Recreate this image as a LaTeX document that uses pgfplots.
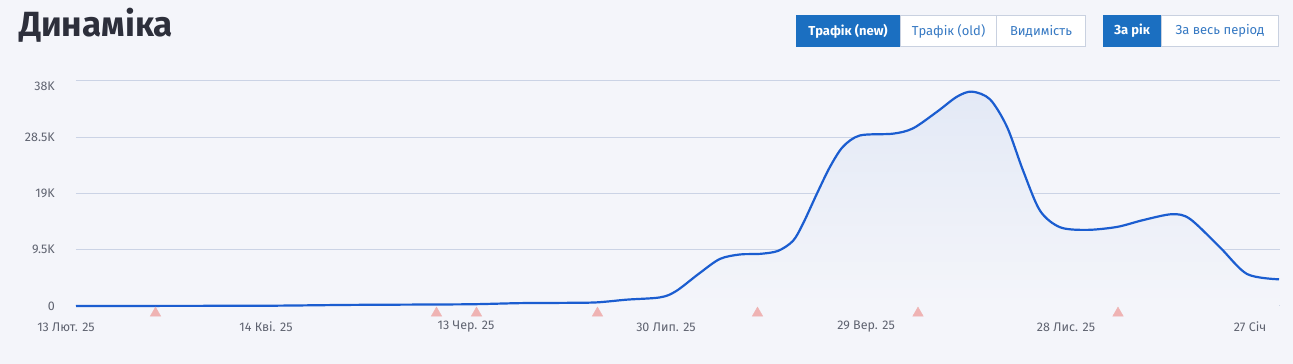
\documentclass[border=0pt]{standalone}
\usepackage{pgfplots}
\pgfplotsset{compat=1.18}
\usepackage{fontspec}
\setmainfont{Fira Sans}
\definecolor{bgc}{HTML}{F4F5FA}
\definecolor{titlec}{HTML}{2D2F3B}
\definecolor{linec}{HTML}{1B5DD0}
\definecolor{gridc}{HTML}{CBD3E5}
\definecolor{tickc}{HTML}{5F6370}
\definecolor{actc}{HTML}{1B6FC1}
\definecolor{btntext}{HTML}{3679C3}
\definecolor{btnborder}{HTML}{C9D1E0}
\definecolor{pinkc}{HTML}{EFB3B3}
\definecolor{fillc}{HTML}{E3E9F6}
\pgfplotstableread{
x y
76 0
200 20
274 50
350 180
435 250
475 300
520 480
560 520
596 600
627 1070
660 1450
676 2500
700 5600
720 7950
740 8700
760 8800
778 9300
793 11000
803 13900
817 19000
830 23500
843 26900
860 28800
893 29100
913 30000
937 32800
957 35350
972 36200
990 34900
1007 30250
1023 22900
1040 16100
1060 13300
1087 12850
1117 13350
1143 14500
1172 15500
1190 14700
1220 9900
1247 5400
1279 4500
}\traffic
\begin{document}
\begin{tikzpicture}[x=1pt,y=1pt]
\fill[bgc] (0,0) rectangle (1293,364);
\node[anchor=base west, inner sep=0, text=titlec, font=\fontsize{35}{35}\selectfont\bfseries] at (19,327) {Динаміка};
% buttons
\fill[actc] (796,349) rectangle (900,317);
\node[text=white, font=\fontsize{13}{13}\selectfont\bfseries] at (848,333) {Трафік (new)};
\draw[btnborder, fill=white] (900.5,348.5) rectangle (996.5,317.5);
\node[text=btntext, font=\fontsize{13}{13}\selectfont] at (948.5,333) {Трафік (old)};
\draw[btnborder, fill=white] (996.5,348.5) rectangle (1085.5,317.5);
\node[text=btntext, font=\fontsize{13}{13}\selectfont] at (1041,333) {Видимість};
\fill[actc] (1103,349) rectangle (1161,317);
\node[text=white, font=\fontsize{13}{13}\selectfont\bfseries] at (1132,333) {За рік};
\draw[btnborder, fill=white] (1161.5,348.5) rectangle (1278.5,317.5);
\node[text=btntext, font=\fontsize{13}{13}\selectfont] at (1220,333) {За весь період};
\begin{axis}[
  at={(76,98)}, anchor=south west, scale only axis,
  width=1204pt, height=225pt,
  xmin=76, xmax=1280, ymin=0, ymax=38000,
  clip=false,
  axis line style={draw=none},
  major tick length=0,
  ymajorgrids,
  grid style={gridc, line width=1pt},
  xtick={76,276,476,676,876,1076,1260},
  xticklabels={13 Лют. 25,14 Кві. 25,13 Чер. 25,30 Лип. 25,29 Вер. 25,28 Лис. 25,27 Січ},
  ytick={0,9500,19000,28500,38000},
  yticklabels={0,9.5K,19K,28.5K,\smash{\raisebox{-9.3pt}{38K}}},
  scaled y ticks=false,
  /pgf/number format/assume math mode=true,
  ticklabel style={font=\fontsize{12.5}{12.5}\selectfont, text=tickc, inner sep=0pt},
  xticklabel style={anchor=center, yshift=-21pt, xshift=-10pt},
  yticklabel style={anchor=east, xshift=-21pt},
]
\addplot[smooth, tension=0.5, draw=none, top color=fillc, bottom color=bgc] table[x=x,y=y] {\traffic} \closedcycle;
\addplot[smooth, tension=0.5, line width=2.2pt, linec] table[x=x,y=y] {\traffic};
\addplot[only marks, mark=triangle*, mark size=6pt, pinkc] coordinates {
(155.5,-1200) (436.5,-1200) (476.5,-1200) (597.5,-1200) (757.5,-1200) (918,-1200) (1118,-1200)
};
\end{axis}
\end{tikzpicture}
\end{document}
